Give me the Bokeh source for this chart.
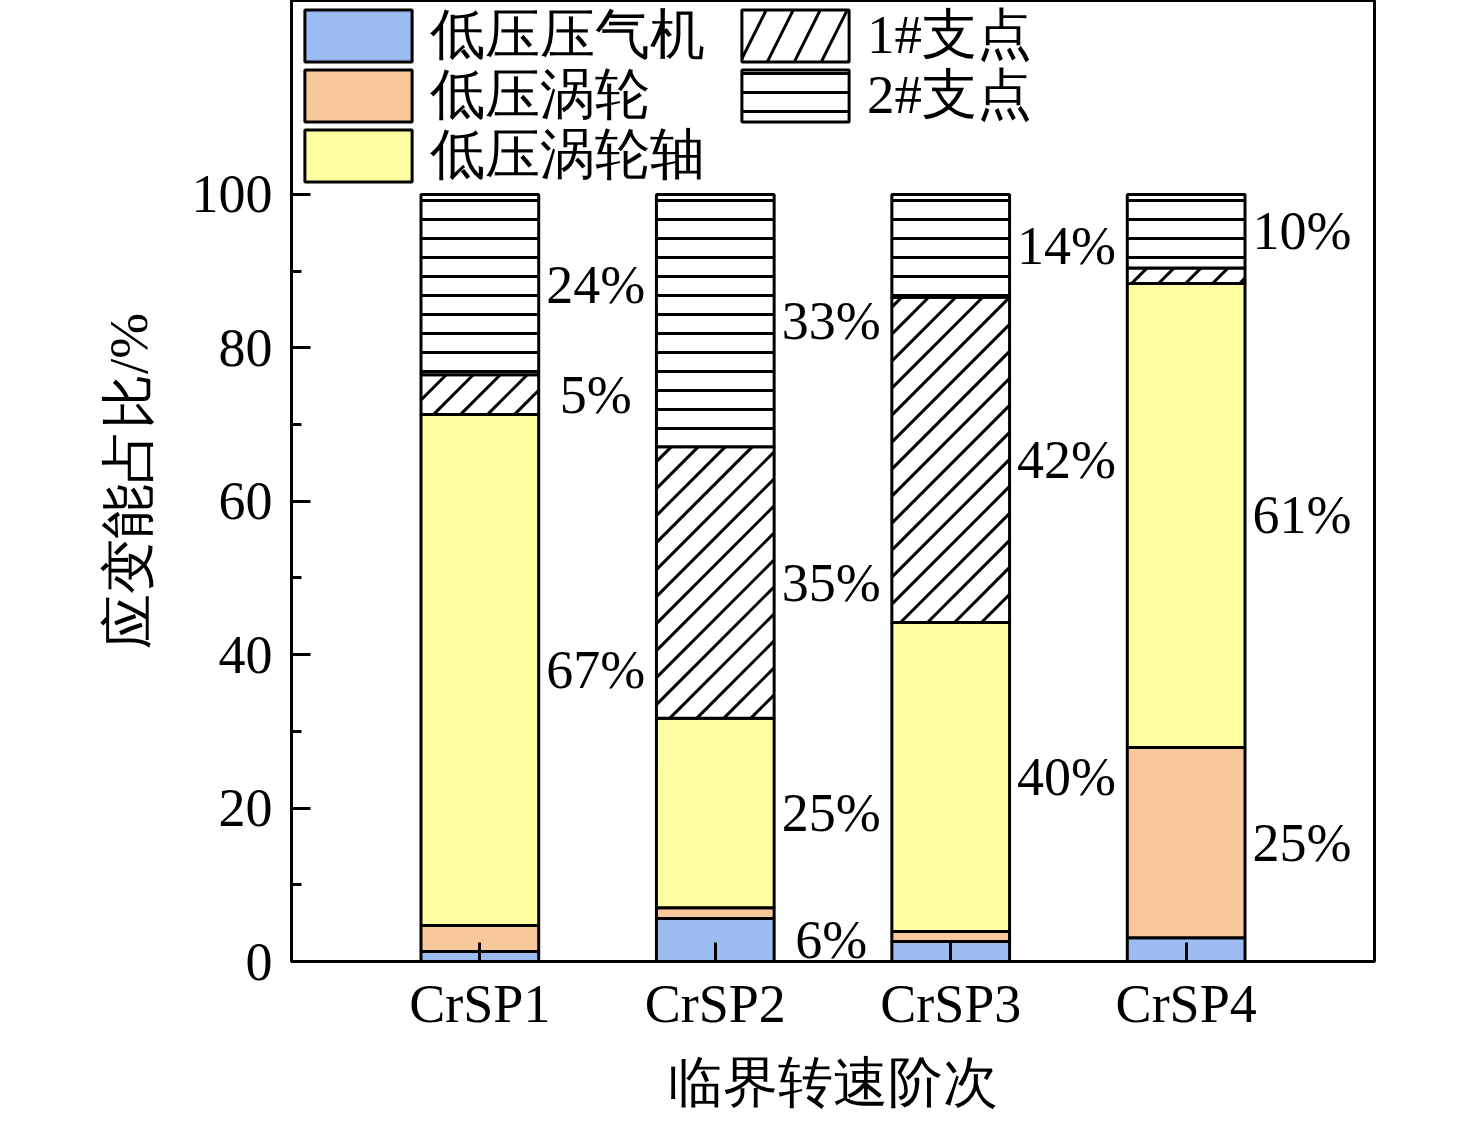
import numpy as np
from bokeh.plotting import figure
from bokeh.models import ColumnDataSource, Legend, LegendItem, FixedTicker, Range1d
from bokeh.core.properties import value
from bokeh.embed import file_html
from bokeh.resources import INLINE

# ---- data ----
categories = ["CrSP1", "CrSP2", "CrSP3", "CrSP4"]
compressor = [1.3, 5.6, 2.6, 3.1]     # 低压压气机
turbine = [3.4, 1.4, 1.3, 24.8]       # 低压涡轮
shaft = [66.6, 24.7, 40.3, 60.5]      # 低压涡轮轴
support1 = [5.2, 35.4, 42.4, 2.0]     # 1#支点
support2 = [23.5, 32.9, 13.4, 9.6]    # 2#支点
series_names = ["低压压气机", "低压涡轮", "低压涡轮轴", "1#支点", "2#支点"]
y_ticks = [0, 20, 40, 60, 80, 100]
y_minor = [10, 30, 50, 70, 90]

# percentage annotations: (category index, series index, text)
label_cat = [0, 0, 0, 1, 1, 1, 1, 2, 2, 2, 3, 3, 3]
label_ser = [4, 3, 2, 4, 3, 2, 0, 4, 3, 2, 4, 2, 1]
label_txt = ["24%", "5%", "67%", "33%", "35%", "25%", "6%",
             "14%", "42%", "40%", "10%", "61%", "25%"]

# ---- styles / layout ----
SERIF = "Liberation Serif"
colors = ["#9BBBF1", "#F9C89A", "#FFFFA2", "white", "white"]
hatches = [" ", " ", " ", " ", "-"]
FRAME_W, FRAME_H = 1083, 961
X_RANGE = (0.2, 4.8)
Y_RANGE = (0, 125.29)
DIAG_SPACING = 27  # px, horizontal spacing of the 45-degree hatch
keys = ["s0", "s1", "s2", "s3", "s4"]
xs = list(range(1, len(categories) + 1))
bar_w = 0.5

data = dict(x=xs)
series = [compressor, turbine, shaft, support1, support2]
for k, s in zip(keys, series):
    data[k] = s
src = ColumnDataSource(data)

p = figure(frame_width=FRAME_W, frame_height=FRAME_H,
           x_range=Range1d(*X_RANGE), y_range=Range1d(*Y_RANGE),
           output_backend="svg", toolbar_location=None,
           min_border_left=291, min_border_right=90,
           min_border_top=0, min_border_bottom=150)

renderers = p.vbar_stack(keys, x="x", width=bar_w, source=src,
                         fill_color=colors, line_color="black", line_width=3,
                         hatch_pattern=hatches, hatch_color="black",
                         hatch_weight=3, hatch_scale=19)

# 45-degree hatch for the 1#支点 segments, clipped to each segment
arr = np.array(series)  # series x categories
cum = np.cumsum(arr, axis=0)
sxp = FRAME_W / (X_RANGE[1] - X_RANGE[0])
syp = FRAME_H / (Y_RANGE[1] - Y_RANGE[0])
hx0, hy0, hx1, hy1 = [], [], [], []
for c, xc in enumerate(xs):
    lo, hi = cum[2, c], cum[3, c]
    X0 = (xc - bar_w / 2 - X_RANGE[0]) * sxp
    X1 = (xc + bar_w / 2 - X_RANGE[0]) * sxp
    Y0 = (lo - Y_RANGE[0]) * syp
    Y1 = (hi - Y_RANGE[0]) * syp
    kmin = int(np.floor((Y0 - X1) / DIAG_SPACING))
    kmax = int(np.ceil((Y1 - X0) / DIAG_SPACING))
    for k in range(kmin, kmax + 1):
        b = k * DIAG_SPACING
        a0 = max(X0, Y0 - b)
        a1 = min(X1, Y1 - b)
        if a1 - a0 > 1.0:
            hx0.append(a0 / sxp + X_RANGE[0])
            hy0.append((a0 + b) / syp + Y_RANGE[0])
            hx1.append(a1 / sxp + X_RANGE[0])
            hy1.append((a1 + b) / syp + Y_RANGE[0])
p.segment(x0=hx0, y0=hy0, x1=hx1, y1=hy1, line_color="black",
          line_width=3, line_cap="butt")

# legend proxy for the diagonal hatch (not drawn in the plot)
proxy = p.vbar(x=xs, top=support1, width=bar_w, fill_color="white",
               line_color="black", line_width=3, hatch_pattern="/",
               hatch_color="black", hatch_weight=3, hatch_scale=54,
               visible=False)

# percentage labels at segment centres, centred right of each bar
lx, ly, lt = [], [], []
for c, s, t in zip(label_cat, label_ser, label_txt):
    lo = cum[s - 1, c] if s > 0 else 0.0
    lx.append(xs[c] + bar_w / 2)
    ly.append((lo + cum[s, c]) / 2)
    lt.append(t)
lsrc = ColumnDataSource(dict(x=lx, y=ly, text=lt))
p.text(x="x", y="y", text="text", source=lsrc, x_offset=57,
       text_font=value(SERIF), text_font_size="54px",
       text_baseline="middle", text_align="center", text_color="black")

# axes
p.xgrid.visible = False
p.ygrid.visible = False
p.outline_line_color = "black"
p.outline_line_width = 3

xa = p.xaxis[0]
xa.ticker = FixedTicker(ticks=xs)
xa.major_label_overrides = {x: c for x, c in zip(xs, categories)}
xa.axis_label = "临界转速阶次"
ya = p.yaxis[0]
ya.ticker = FixedTicker(ticks=y_ticks, minor_ticks=y_minor)
ya.axis_label = "应变能占比/%"
for ax in (xa, ya):
    ax.axis_line_width = 3
    ax.axis_line_color = "black"
    ax.major_tick_in = 19
    ax.major_tick_out = 0
    ax.major_tick_line_width = 3
    ax.minor_tick_in = 10
    ax.minor_tick_out = 0
    ax.minor_tick_line_width = 3
    ax.major_label_text_font = SERIF
    ax.major_label_text_font_size = "54px"
    ax.major_label_text_color = "black"
    ax.axis_label_text_font = SERIF
    ax.axis_label_text_font_size = "55px"
    ax.axis_label_text_font_style = "normal"
    ax.axis_label_text_color = "black"
xa.minor_tick_in = 0
xa.major_label_standoff = 12
xa.axis_label_standoff = 15
ya.major_label_standoff = 19
ya.axis_label_standoff = 30

# legend: one box per entry, placed on a 2-column grid
legend_renderers = [renderers[0], renderers[1], renderers[2], proxy, renderers[4]]
ITEM_H = 74          # measured height of a legend row
GLYPH_H = 65
leg_x = [0, 0, 0, 437, 437]
leg_top = [-2, 58, 118, -2, 58]
for name, r, lxp, tp in zip(series_names, legend_renderers, leg_x, leg_top):
    leg = Legend(items=[LegendItem(label=name, renderers=[r])],
                 location=(lxp, FRAME_H - tp - ITEM_H),
                 glyph_width=134, glyph_height=GLYPH_H, label_height=GLYPH_H,
                 label_standoff=5, spacing=0, padding=0, margin=0,
                 border_line_color=None, background_fill_alpha=0,
                 inactive_fill_alpha=0,
                 label_text_font=SERIF, label_text_font_size="55px",
                 label_text_color="black")
    p.add_layout(leg, "center")

open("out.html", "w").write(file_html(p, INLINE))
